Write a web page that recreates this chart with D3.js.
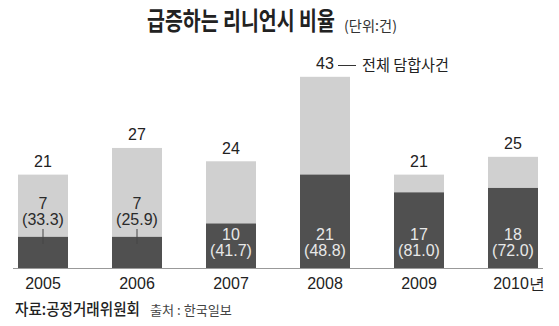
<!DOCTYPE html>
<html><head><meta charset="utf-8">
<script src="https://cdn.jsdelivr.net/npm/d3@7"></script>
<style>body{margin:0;background:#fff}svg{display:block}text{font-family:"Noto Sans CJK KR","Noto Sans",sans-serif}.num{font-family:"Liberation Sans",Arial,sans-serif}</style>
</head><body><svg id="c" width="559" height="326"></svg>
<script>
const years = ["2005","2006","2007","2008","2009","2010"];
const yearLabels = ["2005","2006","2007","2008","2009","2010년"];
const totals = [21,27,24,43,21,25];
const leniency = [7,7,10,21,17,18];
const ratios = ["33.3","25.9","41.7","48.8","81.0","72.0"];

const svg = d3.select("#c");
const baseY = 268;
const xs = d3.scalePoint().domain(years).range([43, 513]);
const bw = 50;
const y = d3.scaleLinear().domain([0, 43]).range([baseY, 76.8]);

// place text at (x,y) and horizontally squeeze it to a target width
function fitText(x0, y0, w, size, weight, fill, str){
  const t = svg.append("text").attr("x",0).attr("y",0).attr("font-size",size).attr("font-weight",weight).attr("fill",fill).text(str);
  const nat = t.node().getComputedTextLength();
  t.attr("transform",`translate(${x0},${y0}) scale(${w/nat},1)`);
  return t;
}

// title
fitText(147, 30, 188, 25, 700, "#222", "급증하는 리니언시 비율");
fitText(344, 31, 53, 14, 400, "#333", "(단위:건)");

const g = svg.append("g");
years.forEach((yr,i)=>{
  const cx = xs(yr);
  g.append("rect").attr("x",cx-bw/2).attr("y",y(totals[i])).attr("width",bw).attr("height",baseY-y(totals[i])).attr("fill","#d0d0d0");
  g.append("rect").attr("x",cx-bw/2).attr("y",y(leniency[i])).attr("width",bw).attr("height",baseY-y(leniency[i])).attr("fill","#505050");
  const inside = (baseY - y(leniency[i])) > 40;
  const l1 = inside ? 240 : 209;
  const col = inside ? "#e8e8e8" : "#2a2a2a";
  g.append("text").attr("class","num").attr("x",cx).attr("y",l1).attr("text-anchor","middle").attr("font-size",16).attr("fill",col).text(leniency[i]);
  g.append("text").attr("class","num").attr("x",cx).attr("y",l1+16).attr("text-anchor","middle").attr("font-size",16).attr("fill",col).text("("+ratios[i]+")");
  if(!inside){
    g.append("line").attr("x1",cx).attr("x2",cx).attr("y1",229).attr("y2",244).attr("stroke","#444").attr("stroke-width",1);
  }
  g.append("text").attr("class","num").attr("x",cx).attr("y",y(totals[i])-7.5).attr("text-anchor","middle").attr("font-size",16).attr("fill","#222").text(totals[i]);
  g.append("text").attr("class","num").attr("x", i===5 ? cx+6 : cx).attr("y",289).attr("text-anchor","middle").attr("font-size",16).attr("fill","#222").text(yearLabels[i]);
});
// baseline
svg.append("line").attr("x1",13).attr("x2",543).attr("y1",baseY+0.5).attr("y2",baseY+0.5).attr("stroke","#999").attr("stroke-width",1.2);

// annotation for total
const cx8 = xs("2008");
svg.append("line").attr("x1",cx8+13).attr("x2",cx8+31).attr("y1",65.5).attr("y2",65.5).attr("stroke","#333").attr("stroke-width",1);
fitText(cx8+37, 71, 87, 16, 400, "#222", "전체 담합사건");

// source
fitText(15, 315, 125, 16, 500, "#222", "자료:공정거래위원회");
fitText(150, 315, 82, 13, 400, "#444", "출처 : 한국일보");
</script></body></html>
